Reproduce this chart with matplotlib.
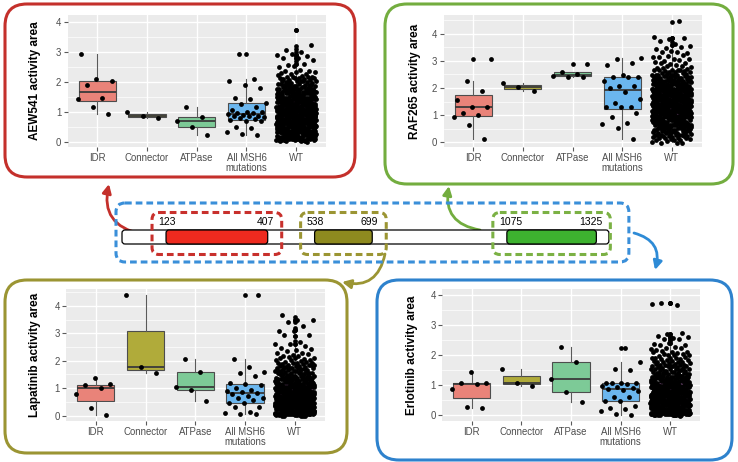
import numpy as np
import matplotlib
matplotlib.use("Agg")
import matplotlib.pyplot as plt
from matplotlib.patches import FancyBboxPatch, FancyArrowPatch
from matplotlib.ticker import MultipleLocator

plt.rcParams['font.family'] = ['Liberation Sans', 'DejaVu Sans']

W, H = 738, 462

# ---------------- data ----------------
categories = ['IDR', 'Connector', 'ATPase', 'All MSH6\nmutations', 'WT']
fill_colors = ['#E98379', '#B0AB3A', '#7DCA97', '#6BB6EE', '#D98BE2']

# AEW541
aew541_idr = [0.93, 1.16, 1.44, 1.47, 1.89, 2.02, 2.09, 2.93]
aew541_connector = [0.79, 0.88, 1.01]
aew541_atpase = [0.24, 0.51, 0.69, 0.84, 1.18]
aew541_all = [0.24, 0.26, 0.34, 0.47, 0.51, 0.69, 0.71, 0.72, 0.75, 0.79, 0.82,
              0.85, 0.88, 0.88, 0.90, 0.93, 0.95, 0.96, 1.00, 1.01, 1.05, 1.16,
              1.28, 1.30, 1.42, 1.48, 1.81, 1.89, 2.02, 2.09, 2.93]
aew541_wt_levels = [0.05, 0.1, 0.2, 0.3, 0.4, 0.5, 0.6, 0.7, 0.8, 0.9, 1.0, 1.1, 1.2,
                    1.3, 1.4, 1.5, 1.6, 1.7, 1.8, 1.9, 2.0, 2.1, 2.2, 2.3, 2.4, 2.5,
                    2.6, 2.7, 2.8, 2.9, 3.0, 3.1, 3.2, 3.72]
aew541_wt_counts = [11, 20, 22, 25, 28, 31, 36, 39, 39, 39, 38, 35, 31,
                    25, 21, 18, 17, 15, 14, 12, 10, 8, 6, 5, 3, 2,
                    2, 1, 2, 3, 1, 1, 1, 1]

# RAF265
raf265_idr = [0.11, 0.65, 0.92, 1.00, 1.07, 1.30, 1.30, 1.57, 1.88, 2.27, 3.06]
raf265_connector = [1.90, 2.02, 2.17]
raf265_atpase = [2.39, 2.42, 2.46, 2.50, 2.60, 2.90]
raf265_all = [0.11, 0.52, 0.66, 0.70, 0.92, 1.07, 1.30, 1.31, 1.31, 1.46, 1.58, 1.84,
              2.00, 2.06, 2.08, 2.27, 2.40, 2.40, 2.40, 2.48, 2.85, 2.91, 3.06, 3.11]
raf265_wt_levels = [0.0, 0.1, 0.2, 0.3, 0.4, 0.5, 0.6, 0.7, 0.8, 0.9, 1.0, 1.1, 1.2,
                    1.3, 1.4, 1.5, 1.6, 1.7, 1.8, 1.9, 2.0, 2.1, 2.2, 2.3, 2.4, 2.5,
                    2.6, 2.7, 2.8, 2.9, 3.0, 3.1, 3.2, 3.3, 3.4, 3.5, 3.6, 3.7, 3.85, 4.45]
raf265_wt_counts = [5, 7, 8, 10, 11, 14, 15, 17, 20, 21, 22, 24, 25,
                    25, 27, 27, 27, 25, 25, 24, 22, 20, 17, 14, 12, 10,
                    7, 5, 4, 4, 3, 3, 3, 3, 2, 2, 2, 1, 3, 1]

# Lapatinib
lapatinib_idr = [0.04, 0.27, 0.78, 0.99, 1.10, 1.16, 1.36]
lapatinib_connector = [1.54, 1.78, 4.39]
lapatinib_atpase = [0.55, 0.92, 1.03, 1.59, 2.06]
lapatinib_all = [0.05, 0.05, 0.09, 0.15, 0.30, 0.33, 0.45, 0.47, 0.57, 0.63, 0.63, 0.72,
                 0.79, 0.81, 0.86, 0.91, 0.93, 1.01, 1.11, 1.15, 1.18, 1.44, 1.57, 1.60,
                 1.78, 2.05, 4.38]
lapatinib_wt_levels = [0.03, 0.1, 0.2, 0.3, 0.4, 0.5, 0.6, 0.7, 0.8, 0.9, 1.0, 1.1, 1.2,
                       1.3, 1.4, 1.5, 1.6, 1.7, 1.8, 1.9, 2.0, 2.1, 2.2, 2.3, 2.4, 2.5,
                       2.6, 2.7, 2.9, 3.1, 3.2, 3.4, 3.5, 3.6]
lapatinib_wt_counts = [20, 31, 36, 36, 35, 34, 32, 31, 28, 25, 22, 20, 17,
                       15, 14, 12, 11, 9, 9, 8, 6, 5, 4, 3, 2, 2,
                       2, 1, 2, 2, 1, 1, 2, 1]

# Erlotinib
erlotinib_idr = [0.23, 0.27, 0.88, 1.04, 1.08, 1.08, 1.44]
erlotinib_connector = [0.96, 1.08, 1.52]
erlotinib_atpase = [0.44, 0.76, 1.19, 1.78, 2.26]
erlotinib_all = [0.01, 0.04, 0.12, 0.20, 0.25, 0.30, 0.47, 0.47, 0.61, 0.61, 0.80, 0.82,
                 0.88, 0.89, 0.95, 0.97, 1.05, 1.08, 1.08, 1.08, 1.08, 1.50, 1.53, 1.78, 2.24]
erlotinib_wt_levels = [0.02, 0.1, 0.2, 0.3, 0.4, 0.5, 0.6, 0.7, 0.8, 0.9, 1.0, 1.1, 1.2,
                       1.3, 1.4, 1.5, 1.6, 1.7, 1.8, 1.9, 2.0, 2.1, 2.2, 2.3, 2.4, 2.5,
                       2.6, 2.7, 3.72]
erlotinib_wt_counts = [25, 36, 38, 38, 36, 35, 34, 31, 28, 25, 22, 20, 17,
                       14, 12, 11, 9, 8, 8, 7, 6, 5, 4, 3, 2, 2,
                       3, 2, 3]

# MSH6 protein diagram
protein_length = 1360
domain_starts = [123, 538, 1075]
domain_ends = [407, 699, 1325]
domain_colors = ['#EE2A1F', '#8E8A1F', '#3DB22F']
domain_box_colors = ['#C8302C', '#9B9533', '#7BB144']

# ---------------- figure ----------------
fig = plt.figure(figsize=(W / 100, H / 100), dpi=100)
fig.patch.set_facecolor('white')


def add_px_axes(x0, y0, x1, y1, **kw):
    return fig.add_axes([x0 / W, 1 - y1 / H, (x1 - x0) / W, (y1 - y0) / H], **kw)


# background axes in pixel coordinates for borders and arrows
bg = fig.add_axes([0, 0, 1, 1], zorder=0)
bg.set_xlim(0, W)
bg.set_ylim(H, 0)
bg.axis('off')

# protein axes: x in residues, y in pixels
PX_PER_RES = 0.358
RES0_PX = 122
prot = fig.add_axes([0, 0, 1, 1], zorder=1)
prot.set_xlim(-RES0_PX / PX_PER_RES, (W - RES0_PX) / PX_PER_RES)
prot.set_ylim(H, 0)
prot.axis('off')
prot.patch.set_alpha(0)


def res(px):
    return px / PX_PER_RES


def jitter(n, width=0.4, seed_mult=0.6180339887498949, phase=0.15):
    k = np.arange(n)
    return (((k + 1) * seed_mult + phase) % 1.0 - 0.5) * 2 * width


panels = [
    dict(groups=[aew541_idr, aew541_connector, aew541_atpase, aew541_all],
         levels=aew541_wt_levels, counts=aew541_wt_counts,
         ylabel='AEW541 activity area', box=(67.5, 15, 326, 147), ylim=(-0.167, 4.233),
         lab_off=32.5, color='#C4302B', border=(5, 4, 355, 177)),
    dict(groups=[raf265_idr, raf265_connector, raf265_atpase, raf265_all],
         levels=raf265_wt_levels, counts=raf265_wt_counts,
         ylabel='RAF265 activity area', box=(443.5, 15, 701.5, 147), ylim=(-0.173, 4.69),
         lab_off=28.5, color='#73AD3F', border=(385, 4, 733, 184)),
    dict(groups=[lapatinib_idr, lapatinib_connector, lapatinib_atpase, lapatinib_all],
         levels=lapatinib_wt_levels, counts=lapatinib_wt_counts,
         ylabel='Lapatinib activity area', box=(66, 289, 324.5, 421), ylim=(-0.193, 4.61),
         lab_off=31, color='#9B9533', border=(5, 280, 347, 453)),
    dict(groups=[erlotinib_idr, erlotinib_connector, erlotinib_atpase, erlotinib_all],
         levels=erlotinib_wt_levels, counts=erlotinib_wt_counts,
         ylabel='Erlotinib activity area', box=(442, 289, 700, 421), ylim=(-0.2, 4.2),
         lab_off=30.3, color='#2E82CD', border=(377, 280, 732, 460)),
]

positions = np.arange(1, 6)
for p in panels:
    x0, y0, x1, y1 = p['box']
    ax = add_px_axes(x0, y0, x1, y1, zorder=3)
    wt = np.repeat(p['levels'], p['counts'])
    data = [np.asarray(g, dtype=float) for g in p['groups']] + [wt]
    bp = ax.boxplot(data, positions=positions, widths=0.75, patch_artist=True,
                    showcaps=False, whis=1.5, zorder=3,
                    flierprops=dict(marker='o', markerfacecolor='black',
                                    markeredgecolor='none', markersize=3.4),
                    medianprops=dict(color='#3a3a3a', lw=1.3),
                    boxprops=dict(edgecolor='#4d4d4d', lw=0.8),
                    whiskerprops=dict(color='#5a5a5a', lw=0.8))
    for patch, c in zip(bp['boxes'], fill_colors):
        patch.set_facecolor(c)
    for i, vals in enumerate(data):
        xs = positions[i] + jitter(len(vals))
        ys = vals
        if i == 4:
            # geom_jitter-style small vertical jitter for the dense WT cloud
            ys = vals + jitter(len(vals), width=0.05, seed_mult=0.7548776662, phase=0.4)
        ax.scatter(xs, ys, s=12, c='black', linewidths=0, zorder=5)

    ax.set_facecolor('#EBEBEB')
    for s in ax.spines.values():
        s.set_visible(False)
    ax.set_xlim(0.4, 5.6)
    ax.set_ylim(*p['ylim'])
    ax.set_xticks(positions)
    ax.set_xticklabels(categories)
    ax.set_yticks([0, 1, 2, 3, 4])
    ax.yaxis.set_minor_locator(MultipleLocator(0.5))
    ax.set_axisbelow(True)
    ax.grid(which='major', color='white', lw=1.0)
    ax.grid(which='minor', axis='y', color='white', lw=0.5)
    ax.tick_params(which='major', length=3, width=0.8, color='#5a5a5a',
                   labelsize=6.9, labelcolor='#4D4D4D', pad=1.5)
    ax.tick_params(which='minor', length=0)
    for lbl in ax.get_xticklabels():
        lbl.set_linespacing(1.0)
    ax.set_ylabel(p['ylabel'], fontsize=8.5, fontweight='bold', color='black')
    ax.yaxis.set_label_coords(-(p['lab_off'] - 6) / (x1 - x0), 0.5)

    bx0, by0, bx1, by1 = p['border']
    bg.add_patch(FancyBboxPatch((bx0, by0), bx1 - bx0, by1 - by0,
                                boxstyle='round,pad=0,rounding_size=22',
                                fc='white', ec=p['color'], lw=2.2, zorder=1))

# ---------------- protein diagram ----------------
BAR_Y0, BAR_Y1 = 230, 244
ma = PX_PER_RES
# blue dashed box around everything
prot.add_patch(FancyBboxPatch((-res(6), 203), protein_length + res(6) + res(20), 59,
                              boxstyle='round,pad=0,rounding_size=%f' % res(9),
                              mutation_aspect=ma, fc='none', ec='#3A8FD9', lw=2.2,
                              linestyle=(0, (2.2, 1.3)), zorder=2))
# main bar
prot.add_patch(FancyBboxPatch((0, BAR_Y0), protein_length, BAR_Y1 - BAR_Y0,
                              boxstyle='round,pad=0,rounding_size=%f' % res(3),
                              mutation_aspect=ma, fc='white', ec='black', lw=0.9,
                              zorder=3))
for s, e, c, bc in zip(domain_starts, domain_ends, domain_colors, domain_box_colors):
    prot.add_patch(FancyBboxPatch((s, BAR_Y0), e - s, BAR_Y1 - BAR_Y0,
                                  boxstyle='round,pad=0,rounding_size=%f' % res(3),
                                  mutation_aspect=ma, fc=c, ec='black', lw=0.9,
                                  zorder=4))
    prot.add_patch(FancyBboxPatch((s - res(14), 212.5), e - s + res(28), 42,
                                  boxstyle='round,pad=0,rounding_size=%f' % res(7),
                                  mutation_aspect=ma, fc='none', ec=bc, lw=2.2,
                                  linestyle=(0, (2.2, 1.3)), zorder=5))
    prot.text(s - res(8), 222, str(s), ha='left', va='center', fontsize=7.5, zorder=6)
    prot.text(e + res(6), 222, str(e), ha='right', va='center', fontsize=7.5, zorder=6)

# ---------------- arrows ----------------
arrows = [
    ((141, 234), (109, 184), '#C4302B'),
    ((480, 230), (449, 186), '#73AD3F'),
    ((385, 254), (342, 282), '#9B9533'),
    ((634, 233), (655, 270), '#2E8BD6'),
]
for a, b, c in arrows:
    bg.add_patch(FancyArrowPatch(a, b, connectionstyle='arc3,rad=-0.5',
                                 arrowstyle='-|>', mutation_scale=13, lw=2.0,
                                 color=c, shrinkA=0, shrinkB=0, zorder=3))

fig.savefig('out.png', dpi=100, facecolor='white')
